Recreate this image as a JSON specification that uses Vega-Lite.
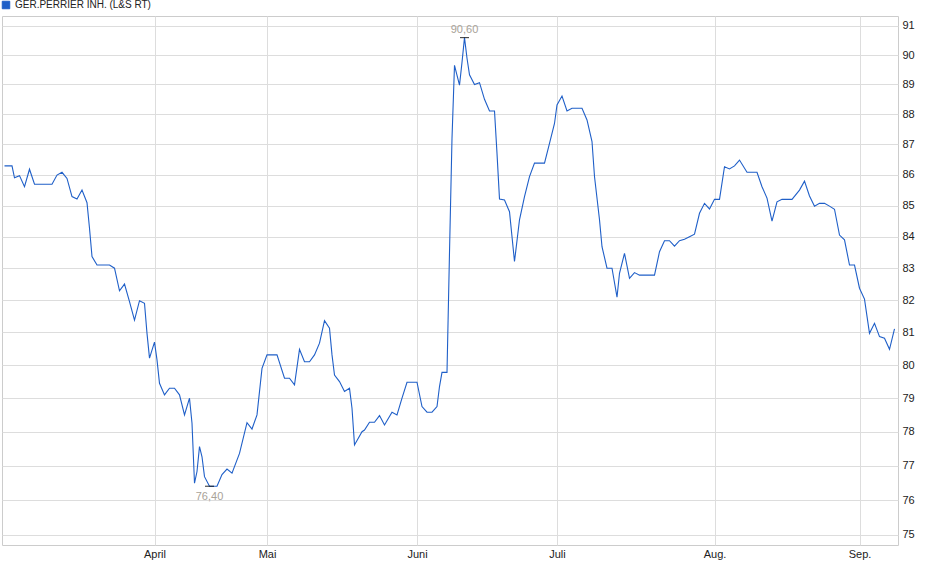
{
  "$schema": "https://vega.github.io/schema/vega-lite/v6.json",
  "width": 896,
  "height": 529,
  "autosize": {"type": "none"},
  "padding": {"left": 2, "top": 16, "right": 42, "bottom": 34},
  "background": "white",
  "data": {
    "values": [
      {"n": 1, "price": 86.29}, {"n": 4, "price": 86.29}, {"n": 5, "price": 85.90},
      {"n": 7, "price": 85.97}, {"n": 9, "price": 85.61}, {"n": 11, "price": 86.18},
      {"n": 13, "price": 85.69}, {"n": 20, "price": 85.69}, {"n": 22, "price": 85.99},
      {"n": 24, "price": 86.08}, {"n": 26, "price": 85.88}, {"n": 28, "price": 85.29},
      {"n": 30, "price": 85.21}, {"n": 32, "price": 85.50}, {"n": 34, "price": 85.09},
      {"n": 35, "price": 84.27}, {"n": 36, "price": 83.37}, {"n": 38, "price": 83.10},
      {"n": 43, "price": 83.10}, {"n": 45, "price": 83.00}, {"n": 47, "price": 82.29},
      {"n": 49, "price": 82.50}, {"n": 51, "price": 81.95}, {"n": 53, "price": 81.38},
      {"n": 55, "price": 81.98}, {"n": 57, "price": 81.90}, {"n": 58, "price": 80.97},
      {"n": 59, "price": 80.21}, {"n": 61, "price": 80.70}, {"n": 62, "price": 80.16},
      {"n": 63, "price": 79.45}, {"n": 65, "price": 79.10}, {"n": 67, "price": 79.30},
      {"n": 69, "price": 79.30}, {"n": 71, "price": 79.10}, {"n": 73, "price": 78.50},
      {"n": 75, "price": 79.00}, {"n": 76, "price": 78.25}, {"n": 77, "price": 76.49},
      {"n": 78, "price": 76.83}, {"n": 79, "price": 77.56}, {"n": 80, "price": 77.26},
      {"n": 81, "price": 76.68}, {"n": 83, "price": 76.40}, {"n": 86, "price": 76.40},
      {"n": 88, "price": 76.74}, {"n": 90, "price": 76.90}, {"n": 92, "price": 76.78},
      {"n": 95, "price": 77.36}, {"n": 98, "price": 78.27}, {"n": 100, "price": 78.08},
      {"n": 102, "price": 78.50}, {"n": 104, "price": 79.90}, {"n": 106, "price": 80.31},
      {"n": 110, "price": 80.31}, {"n": 113, "price": 79.60}, {"n": 115, "price": 79.60},
      {"n": 117, "price": 79.40}, {"n": 119, "price": 80.48}, {"n": 121, "price": 80.10},
      {"n": 123, "price": 80.10}, {"n": 125, "price": 80.31}, {"n": 127, "price": 80.67},
      {"n": 129, "price": 81.36}, {"n": 131, "price": 81.13}, {"n": 132, "price": 80.31},
      {"n": 133, "price": 79.70}, {"n": 135, "price": 79.50}, {"n": 137, "price": 79.20},
      {"n": 139, "price": 79.30}, {"n": 140, "price": 78.70}, {"n": 141, "price": 77.61},
      {"n": 144, "price": 78.00}, {"n": 145, "price": 78.05}, {"n": 147, "price": 78.28},
      {"n": 149, "price": 78.28}, {"n": 151, "price": 78.48}, {"n": 153, "price": 78.20},
      {"n": 156, "price": 78.58}, {"n": 158, "price": 78.50}, {"n": 160, "price": 79.00},
      {"n": 162, "price": 79.48}, {"n": 166, "price": 79.48}, {"n": 168, "price": 78.75},
      {"n": 170, "price": 78.58}, {"n": 172, "price": 78.58}, {"n": 174, "price": 78.75},
      {"n": 175, "price": 79.35}, {"n": 176, "price": 79.78}, {"n": 178, "price": 79.78},
      {"n": 179, "price": 83.50}, {"n": 180, "price": 87.20}, {"n": 181, "price": 89.65},
      {"n": 183, "price": 88.98}, {"n": 184, "price": 89.75}, {"n": 185, "price": 90.60},
      {"n": 186, "price": 89.89}, {"n": 187, "price": 89.33}, {"n": 189, "price": 89.00},
      {"n": 191, "price": 89.06}, {"n": 193, "price": 88.50}, {"n": 195, "price": 88.11},
      {"n": 197, "price": 88.11}, {"n": 198, "price": 86.70}, {"n": 199, "price": 85.21},
      {"n": 201, "price": 85.18}, {"n": 203, "price": 84.80}, {"n": 205, "price": 83.21},
      {"n": 207, "price": 84.54}, {"n": 209, "price": 85.29}, {"n": 211, "price": 85.94},
      {"n": 213, "price": 86.38}, {"n": 217, "price": 86.38}, {"n": 219, "price": 87.03},
      {"n": 221, "price": 87.69}, {"n": 222, "price": 88.31}, {"n": 224, "price": 88.61},
      {"n": 226, "price": 88.11}, {"n": 228, "price": 88.20}, {"n": 232, "price": 88.20},
      {"n": 234, "price": 87.81}, {"n": 236, "price": 87.09}, {"n": 237, "price": 85.94},
      {"n": 239, "price": 84.54}, {"n": 240, "price": 83.68}, {"n": 242, "price": 83.00},
      {"n": 244, "price": 83.00}, {"n": 246, "price": 82.09}, {"n": 247, "price": 82.84},
      {"n": 249, "price": 83.47}, {"n": 251, "price": 82.68}, {"n": 253, "price": 82.86},
      {"n": 255, "price": 82.78}, {"n": 261, "price": 82.78}, {"n": 263, "price": 83.52},
      {"n": 265, "price": 83.87}, {"n": 267, "price": 83.87}, {"n": 269, "price": 83.70},
      {"n": 271, "price": 83.87}, {"n": 273, "price": 83.92}, {"n": 275, "price": 84.00},
      {"n": 277, "price": 84.08}, {"n": 279, "price": 84.75}, {"n": 281, "price": 85.07},
      {"n": 283, "price": 84.89}, {"n": 285, "price": 85.20}, {"n": 287, "price": 85.20},
      {"n": 289, "price": 86.26}, {"n": 291, "price": 86.19}, {"n": 293, "price": 86.29},
      {"n": 295, "price": 86.48}, {"n": 298, "price": 86.08}, {"n": 302, "price": 86.08},
      {"n": 304, "price": 85.61}, {"n": 306, "price": 85.24}, {"n": 308, "price": 84.50},
      {"n": 310, "price": 85.12}, {"n": 312, "price": 85.20}, {"n": 316, "price": 85.20},
      {"n": 319, "price": 85.50}, {"n": 321, "price": 85.79}, {"n": 323, "price": 85.31},
      {"n": 325, "price": 84.98}, {"n": 327, "price": 85.07}, {"n": 329, "price": 85.07},
      {"n": 331, "price": 84.98}, {"n": 333, "price": 84.88}, {"n": 335, "price": 84.05},
      {"n": 337, "price": 83.90}, {"n": 339, "price": 83.10}, {"n": 341, "price": 83.10},
      {"n": 343, "price": 82.37}, {"n": 345, "price": 82.03}, {"n": 347, "price": 80.97},
      {"n": 349, "price": 81.28}, {"n": 351, "price": 80.87}, {"n": 353, "price": 80.82},
      {"n": 355, "price": 80.48}, {"n": 357, "price": 81.11}
    ]
  },
  "encoding": {
    "x": {
      "field": "n",
      "type": "quantitative",
      "scale": {"domain": [0, 358.4], "nice": false, "zero": false},
      "axis": {
        "title": null,
        "values": [61, 106, 166, 222, 285, 343],
        "labelExpr": "datum.value == 61 ? 'April' : datum.value == 106 ? 'Mai' : datum.value == 166 ? 'Juni' : datum.value == 222 ? 'Juli' : datum.value == 285 ? 'Aug.' : 'Sep.'",
        "grid": true,
        "ticks": false,
        "domain": false,
        "labelPadding": 3,
        "labelFlush": false
      }
    },
    "y": {
      "field": "price",
      "type": "quantitative",
      "scale": {"type": "log", "domain": [74.714, 91.346], "nice": false, "zero": false},
      "axis": {
        "title": null,
        "orient": "right",
        "values": [75, 76, 77, 78, 79, 80, 81, 82, 83, 84, 85, 86, 87, 88, 89, 90, 91],
        "format": "d",
        "grid": true,
        "ticks": false,
        "domain": false,
        "labelPadding": 4
      }
    }
  },
  "layer": [
    {
      "mark": {"type": "line", "strokeWidth": 1.1, "interpolate": "linear"},
      "encoding": {
        "color": {
          "datum": "GER.PERRIER INH. (L&S RT)",
          "scale": {"range": ["#1f5fc8"]},
          "legend": {
            "title": null,
            "orient": "none",
            "legendX": -1,
            "legendY": -16,
            "symbolType": "square",
            "symbolSize": 56,
            "labelFontSize": 10,
            "labelColor": "#222222",
            "symbolOffset": 0,
            "labelOffset": 4,
            "encode": {
              "symbols": {
                "update": {
                  "fill": {"value": "#1f5fc8"},
                  "stroke": {"value": "#102a66"},
                  "strokeWidth": {"value": 1},
                  "opacity": {"value": 1}
                }
              }
            }
          }
        }
      }
    },
    {
      "transform": [{"aggregate": [{"op": "argmax", "field": "price", "as": "hi"}]}],
      "layer": [
        {
          "mark": {"type": "tick", "orient": "horizontal", "size": 9, "thickness": 1.2, "color": "black"},
          "encoding": {
            "x": {"field": "hi.n", "type": "quantitative"},
            "y": {"field": "hi.price", "type": "quantitative"}
          }
        },
        {
          "mark": {"type": "text", "baseline": "bottom", "dy": -3, "fontSize": 11, "color": "#a8a298"},
          "encoding": {
            "x": {"field": "hi.n", "type": "quantitative"},
            "y": {"field": "hi.price", "type": "quantitative"},
            "text": {"field": "hi.price", "type": "quantitative", "format": ".2f"}
          }
        }
      ]
    },
    {
      "transform": [{"aggregate": [{"op": "argmin", "field": "price", "as": "lo"}]}],
      "layer": [
        {
          "mark": {"type": "tick", "orient": "horizontal", "size": 9, "thickness": 1.2, "color": "black"},
          "encoding": {
            "x": {"field": "lo.n", "type": "quantitative"},
            "y": {"field": "lo.price", "type": "quantitative"}
          }
        },
        {
          "mark": {"type": "text", "baseline": "top", "dy": 5, "fontSize": 11, "color": "#a8a298"},
          "encoding": {
            "x": {"field": "lo.n", "type": "quantitative"},
            "y": {"field": "lo.price", "type": "quantitative"},
            "text": {"field": "lo.price", "type": "quantitative", "format": ".2f"}
          }
        }
      ]
    }
  ],
  "config": {
    "font": "Liberation Sans",
    "locale": {
      "number": {"decimal": ",", "thousands": ".", "grouping": [3], "currency": ["", " €"]}
    },
    "view": {"stroke": "#cccccc", "strokeWidth": 1},
    "axis": {
      "gridColor": "#dddddd",
      "gridWidth": 1,
      "labelFontSize": 11,
      "labelColor": "#222222",
      "labelFont": "Liberation Sans"
    }
  }
}
